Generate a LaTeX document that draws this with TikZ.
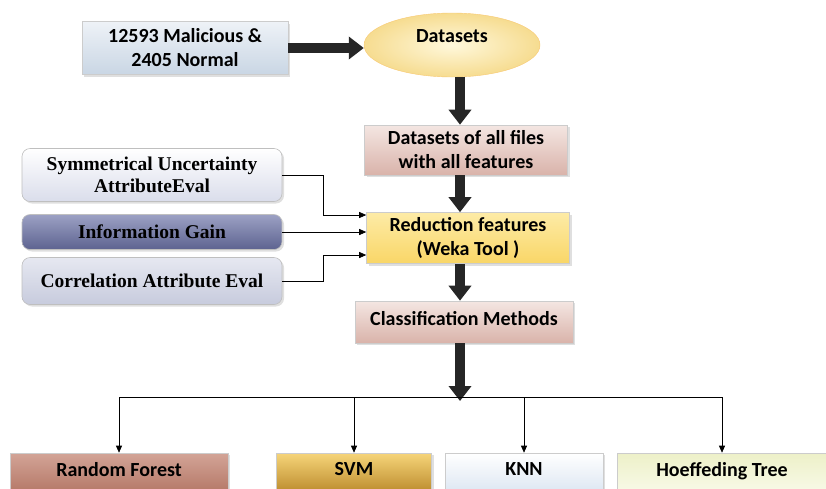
\documentclass[tikz,border=0pt]{standalone}
\usepackage{fontspec}
\setmainfont{Carlito}
\newfontfamily\tnr{Liberation Serif}
\usetikzlibrary{calc,arrows.meta,shapes.geometric,shadows}

\definecolor{maltop}{HTML}{EEF2F7}
\definecolor{malbot}{HTML}{C9D6E4}
\definecolor{elltop}{HTML}{FFF8DC}
\definecolor{ellbot}{HTML}{F6DC90}
\definecolor{pinktop}{HTML}{F4E6E2}
\definecolor{pinkbot}{HTML}{D9B3AA}
\definecolor{yeltop}{HTML}{FDEBA6}
\definecolor{yelbot}{HTML}{F9D667}
\definecolor{rftop}{HTML}{D3A497}
\definecolor{rfbot}{HTML}{B47766}
\definecolor{svmtop}{HTML}{F6D57A}
\definecolor{svmbot}{HTML}{BB8A2B}
\definecolor{knntop}{HTML}{FFFFFF}
\definecolor{knnbot}{HTML}{DCE6F2}
\definecolor{hoetop}{HTML}{EDF0C8}
\definecolor{hoebot}{HTML}{F8FAE8}
\definecolor{symbot}{HTML}{DADDEB}
\definecolor{igtop}{HTML}{9CA1C4}
\definecolor{igbot}{HTML}{5D6390}
\definecolor{cortop}{HTML}{E6E8F1}
\definecolor{corbot}{HTML}{C7CBDD}

\tikzset{
  box/.style={rectangle, draw=black!20, line width=0.6pt, align=center,
    font=\fontsize{20}{24}\selectfont\bfseries,
    drop shadow={opacity=0.25, shadow xshift=2pt, shadow yshift=-2pt}},
  lbox/.style={box, draw=black!25, rounded corners=8pt, font=\tnr\fontsize{19.5}{22}\selectfont\bfseries},
  bigarrow/.style={line width=10pt, draw=black!85,
    -{Triangle[width=22pt, length=15pt]}},
  thinarrow/.style={line width=0.7pt, -{Triangle[width=6pt, length=7pt]}}
}

\begin{document}
\begin{tikzpicture}[x=1pt, y=-1pt]
	%%%%% FRAME %%%%%
	\useasboundingbox (0,0) rectangle (826,488);
	\clip (0,0) rectangle (826,488);
	
	%%%%% NODES %%%%%
	\node[box, minimum width=206pt, minimum height=53pt, top color=maltop, bottom color=malbot]
		(mal) at (185,48) {12593 Malicious \&\\2405 Normal};
	\node[ellipse, draw=ellbot!80!orange, minimum width=176pt, minimum height=64pt,
		inner color=elltop, outer color=ellbot,
		font=\fontsize{20}{24}\selectfont\bfseries, text depth=18pt]
		(data) at (452,45) {Datasets};
	\node[box, minimum width=203pt, minimum height=50pt, top color=pinktop, bottom color=pinkbot]
		(allf) at (466,150) {Datasets of all files\\with all features};
	\node[box, minimum width=203pt, minimum height=51pt, top color=yeltop, bottom color=yelbot]
		(red) at (468,238) {Reduction features\\(Weka Tool )};
	\node[box, minimum width=218pt, minimum height=42pt, top color=pinktop, bottom color=pinkbot, text depth=8pt]
		(cls) at (464,322) {Classification Methods};
	
	\node[lbox, minimum width=260pt, minimum height=53pt, top color=white, bottom color=symbot]
		(sym) at (152,175) {Symmetrical Uncertainty\\AttributeEval};
	\node[lbox, minimum width=260pt, minimum height=35pt, top color=igtop, bottom color=igbot]
		(ig) at (152,232) {Information Gain};
	\node[lbox, minimum width=260pt, minimum height=47pt, top color=cortop, bottom color=corbot]
		(cor) at (152,281) {Correlation Attribute Eval};
	
	\node[box, minimum width=218pt, minimum height=40pt, top color=rftop, bottom color=rfbot, text depth=8pt]
		(rf) at (119,473) {Random Forest};
	\node[box, minimum width=155pt, minimum height=40pt, top color=svmtop, bottom color=svmbot, text depth=8pt]
		(svm) at (354,473) {SVM};
	\node[box, minimum width=158pt, minimum height=40pt, top color=knntop, bottom color=knnbot, text depth=8pt]
		(knn) at (524,473) {KNN};
	\node[box, minimum width=209pt, minimum height=40pt, top color=hoetop, bottom color=hoebot, text depth=8pt]
		(hoef) at (722,473) {Hoeffeding Tree};
	
	%%%%% MAIN FLOW %%%%%
	\coordinate (spine) at (460,0);
	\coordinate (hub) at (460,397);
	
	\draw[bigarrow] (mal.east) -- (mal.east -| data.west);
	\draw[bigarrow] (data.south -| spine) -- (allf.north -| spine);
	\draw[bigarrow] (allf.south -| spine) -- (red.north -| spine);
	\draw[bigarrow] (red.south -| spine) -- (cls.north -| spine);
	\draw[bigarrow, shorten >=-4pt] (cls.south -| spine) -- (hub);
	
	%%%%% FEATURE SELECTION %%%%%
	\draw[thinarrow] (sym.east) -- ++(41,0) |- ($(red.west)+(0,-23)$);
	\draw[thinarrow] (ig.east) -- (ig.east -| red.west);
	\draw[thinarrow] (cor.east) -- ++(41,0) |- ($(red.west)+(0,17)$);
	
	%%%%% CLASSIFIERS %%%%%
	\draw[line width=0.7pt] (hub -| rf.north) -- (hub -| hoef.north);
	\foreach \c in {rf, svm, knn, hoef}
		\draw[thinarrow] (hub -| \c.north) -- (\c.north);
	
\end{tikzpicture}
\end{document}
